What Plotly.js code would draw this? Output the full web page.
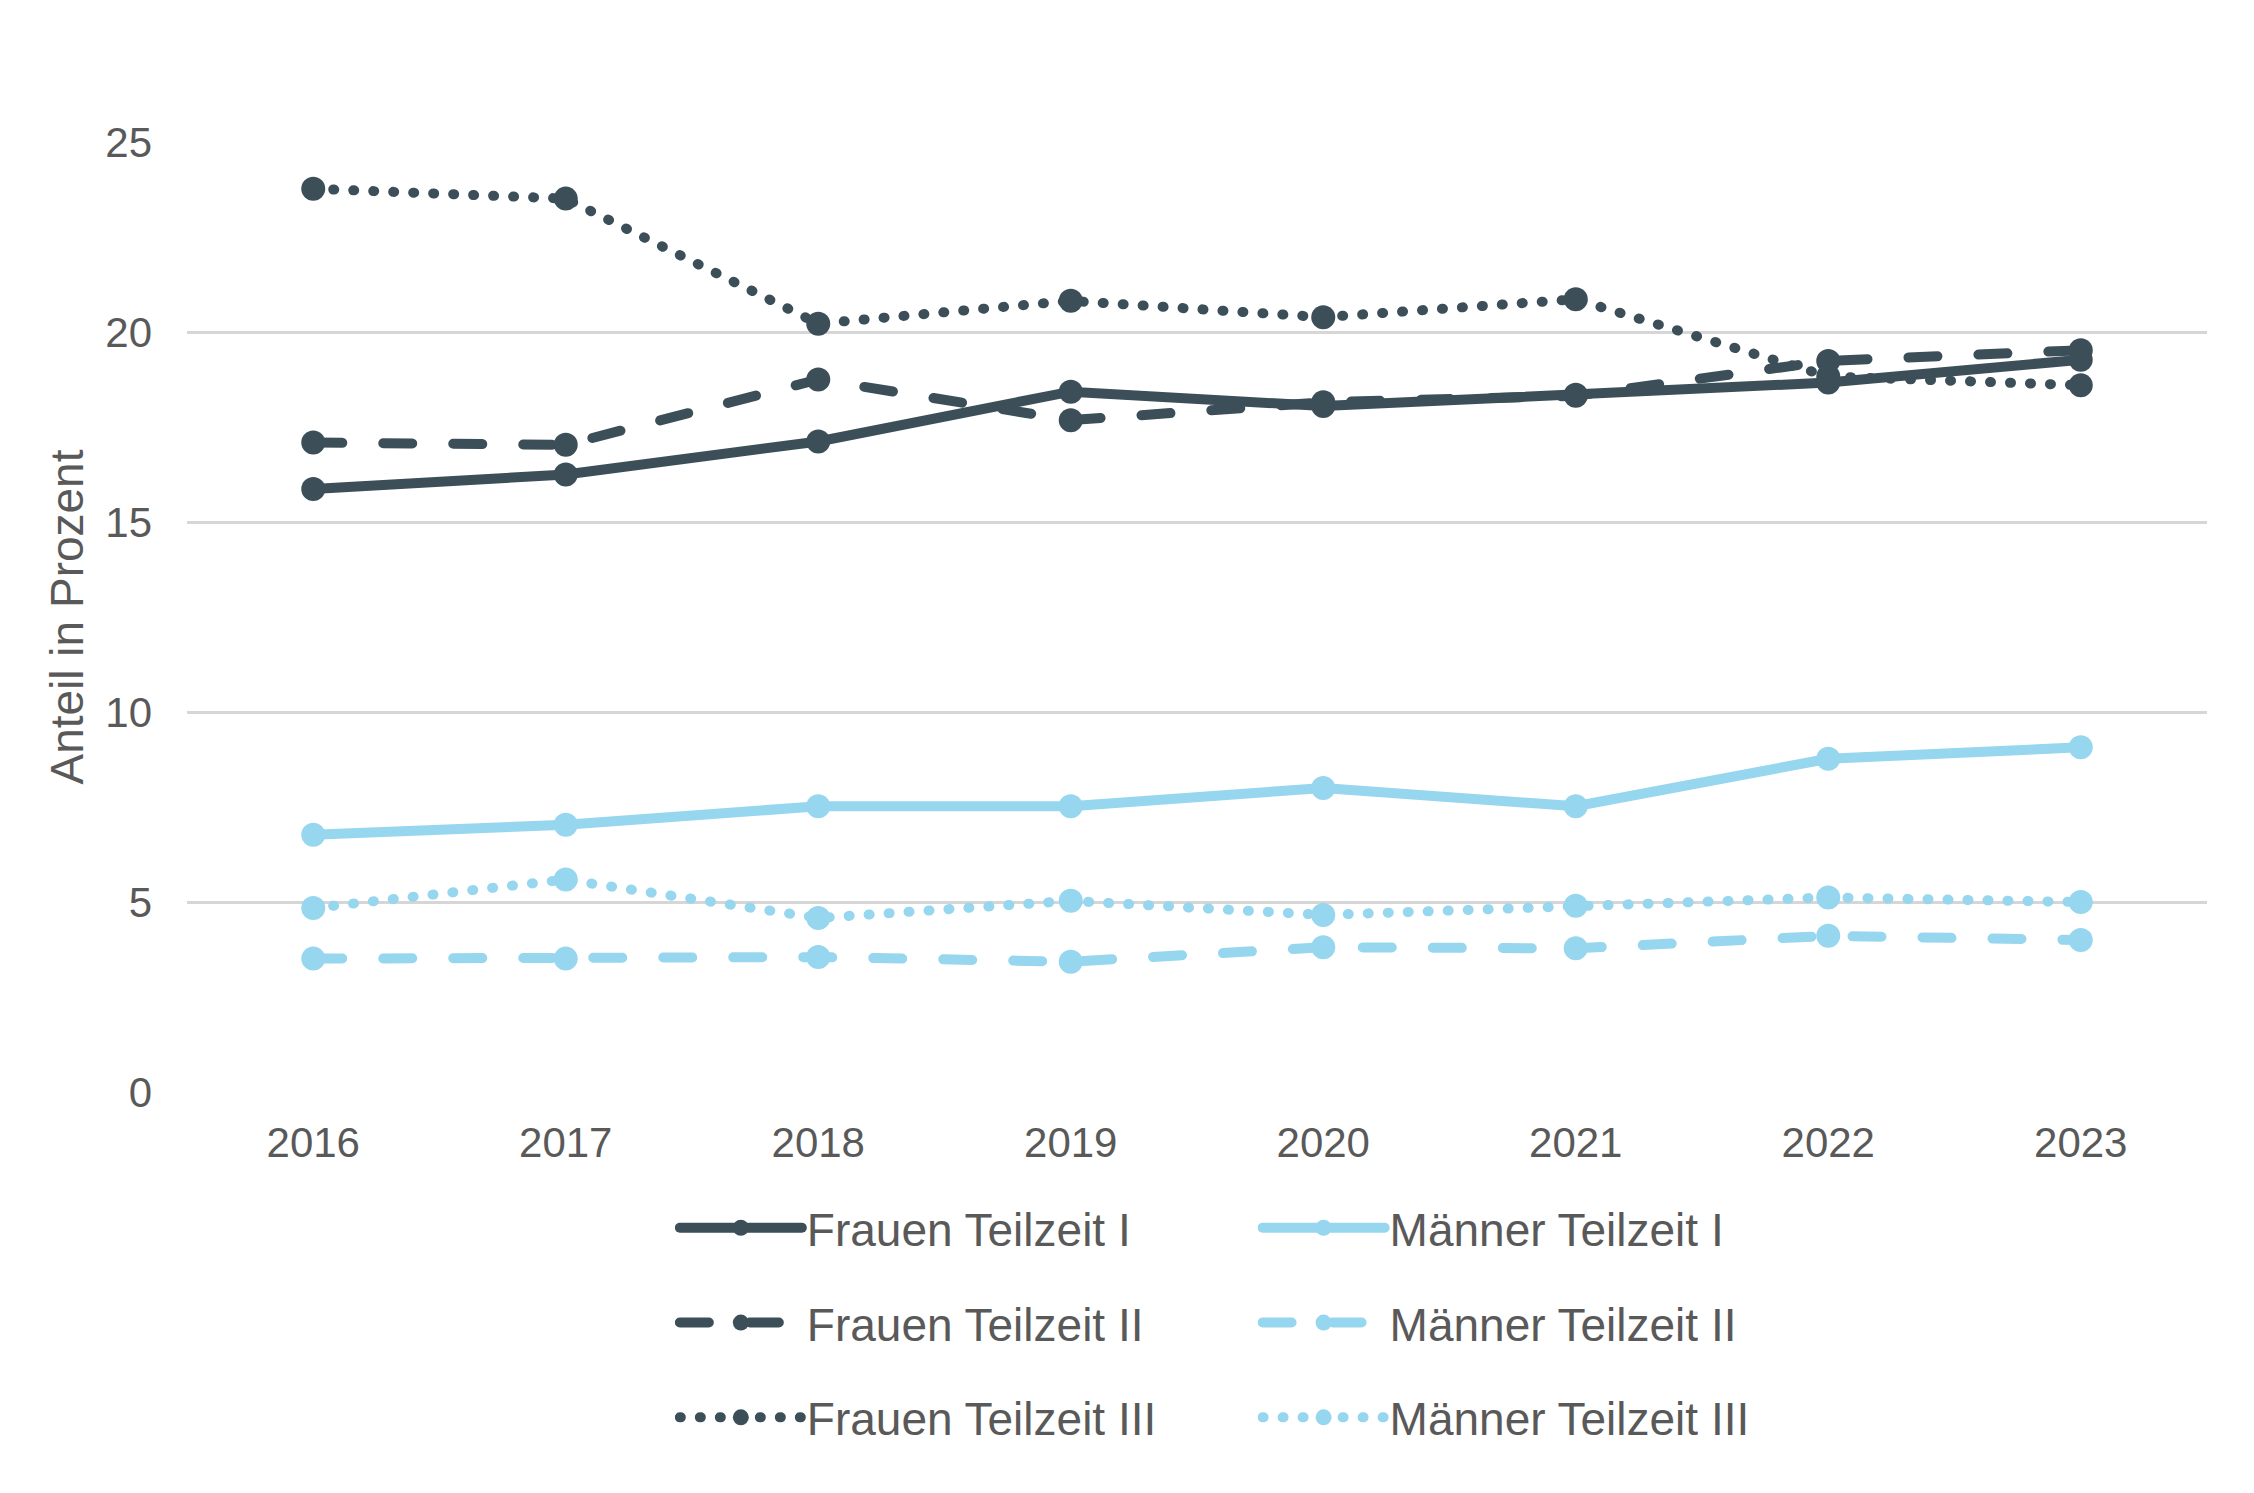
<!DOCTYPE html>
<html>
<head>
<meta charset="utf-8">
<script src="https://cdn.plot.ly/plotly-3.0.1.min.js"></script>
<style>
  html, body { margin: 0; padding: 0; background: #fff; }
  #chart { width: 2254px; height: 1493px; }
  /* runde Linienenden wie im Original (Punkte und Striche) */
  .js-line { stroke-linecap: round; }
</style>
</head>
<body>
<div id="chart"></div>
<script>
const years = ['2016', '2017', '2018', '2019', '2020', '2021', '2022', '2023'];

const frauenTeilzeitI = [15.87, 16.25, 17.12, 18.43, 18.05, 18.35, 18.67, 19.27];
const frauenTeilzeitII = [17.09, 17.03, 18.75, 17.68, 18.15, 18.32, 19.24, 19.52];
const frauenTeilzeitIII = [23.77, 23.51, 20.22, 20.82, 20.39, 20.86, 18.83, 18.6];

const maennerTeilzeitI = [6.77, 7.03, 7.52, 7.52, 8.0, 7.52, 8.77, 9.07];
const maennerTeilzeitII = [3.51, 3.51, 3.55, 3.43, 3.81, 3.78, 4.11, 4.0];
const maennerTeilzeitIII = [4.84, 5.59, 4.58, 5.03, 4.66, 4.9, 5.12, 5.0];

const yTicks = [0, 5, 10, 15, 20, 25];

const dark = '#3c4f59';
const light = '#96d6ee';
const textColor = '#595959';
const font = 'Liberation Sans, Arial, sans-serif';

const dashed = '29px,41px';
const dotted = '1px,19px';

function makeTrace(name, values, color, dash, legend) {
    return {
        x: years,
        y: values,
        name: name,
        type: 'scatter',
        mode: 'lines+markers',
        line: { color: color, width: 10, dash: dash },
        marker: { color: color, size: 24 },
        legend: legend,
        legendgroup: name
    };
}

let data = [
    makeTrace('Frauen Teilzeit I', frauenTeilzeitI, dark, 'solid', 'legend'),
    makeTrace('Frauen Teilzeit II', frauenTeilzeitII, dark, dashed, 'legend'),
    makeTrace('Frauen Teilzeit III', frauenTeilzeitIII, dark, dotted, 'legend'),
    makeTrace('Männer Teilzeit I', maennerTeilzeitI, light, 'solid', 'legend2'),
    makeTrace('Männer Teilzeit II', maennerTeilzeitII, light, dashed, 'legend2'),
    makeTrace('Männer Teilzeit III', maennerTeilzeitIII, light, dotted, 'legend2')
];

let legendBase = {
    orientation: 'v',
    traceorder: 'grouped',
    tracegroupgap: 32,
    itemwidth: 122,
    font: { family: font, size: 46, color: textColor },
    bgcolor: 'rgba(0,0,0,0)',
    xanchor: 'left',
    yanchor: 'top',
    y: -0.1046
};

let layout = {
    width: 2254,
    height: 1493,
    margin: { l: 187, r: 47, t: 142, b: 401 },
    paper_bgcolor: '#fff',
    plot_bgcolor: '#fff',
    font: { family: font, color: textColor },
    showlegend: true,
    xaxis: {
        type: 'category',
        range: [-0.5, 7.5],
        showgrid: false,
        zeroline: false,
        showline: false,
        ticks: '',
        ticklabelstandoff: 22,
        tickfont: { family: font, size: 42, color: textColor }
    },
    yaxis: {
        range: [0, 25],
        tickvals: yTicks,
        showgrid: true,
        gridcolor: '#d6d6d6',
        gridwidth: 3,
        zeroline: false,
        showline: false,
        ticks: '',
        ticklabelstandoff: 34,
        tickfont: { family: font, size: 42, color: textColor },
        title: {
            text: 'Anteil in Prozent',
            font: { family: font, size: 46, color: textColor },
            standoff: 7
        }
    },
    legend: Object.assign({}, legendBase, { x: 0.2415 }),
    legend2: Object.assign({}, legendBase, { x: 0.530 })
};

Plotly.newPlot('chart', data, layout, { staticPlot: true, displayModeBar: false });
</script>
</body>
</html>
